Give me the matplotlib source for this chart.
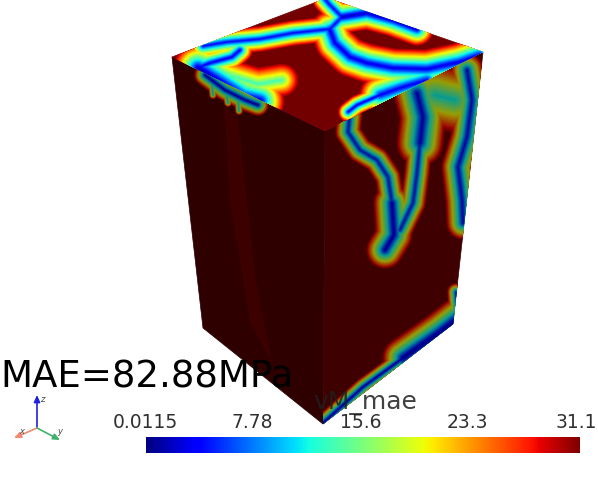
import numpy as np
import matplotlib
matplotlib.use("Agg")
import matplotlib.pyplot as plt
from matplotlib.patches import Polygon

# Colour bar
bar_title = "vM_mae"
tick_values = [0.0115, 7.78, 15.6, 23.3, 31.1]
tick_labels = ["0.0115", "7.78", "15.6", "23.3", "31.1"]
annotation = "MAE=82.88MPa"

# Box faces, in picture pixels
top_face = [(172, 57), (327, -2), (483, 52), (325, 131)]
left_face = [(172, 57), (325, 131), (323, 424), (203, 328)]
right_face = [(325, 131), (483, 52), (453, 324), (323, 424)]
left_sliver = [(224, 105), (238, 118), (256, 280), (272, 363), (250, 322), (230, 205)]

# Stress bands: (ridge points, half width, lowest level of the colour map)
top_bands = [
    ([(203, 46), (227, 42), (260, 39), (293, 33), (330, 29), (342, 17), (330, 5), (323, -3)], 13, 0.12),
    ([(197, 68), (210, 63), (232, 57), (240, 50)], 13, 0.1),
    ([(198, 68), (217, 80), (243, 97), (260, 101)], 25, 0.03),
    ([(225, 74), (258, 84), (282, 80)], 17, 0.42),
    ([(330, 30), (335, 43), (350, 57), (367, 63), (393, 68), (427, 69), (460, 62), (480, 55)], 20, 0.08),
    ([(342, 17), (367, 13), (393, 20), (417, 29)], 17, 0.05),
    ([(427, 80), (400, 88), (380, 95)], 21, 0.1),
    ([(380, 95), (357, 105), (348, 112)], 10, 0.1),
]
right_bands = [
    ([(350, 113), (348, 132), (360, 150), (377, 160), (388, 177), (392, 203)], 13, 0.14),
    ([(392, 203), (394, 235), (385, 250)], 19, 0.08),
    ([(417, 93), (423, 117), (420, 143)], 24, 0.1),
    ([(420, 143), (417, 173), (413, 203), (400, 230)], 13, 0.14),
    ([(467, 70), (472, 100), (467, 137), (458, 167), (462, 200), (463, 223)], 17, 0.12),
    ([(435, 95), (455, 100)], 34, 0.35),
    ([(323, 423), (363, 387), (403, 358)], 9, 0.1),
    ([(403, 358), (440, 332), (458, 318)], 21, 0.05),
    ([(458, 318), (456, 292)], 9, 0.15),
]
left_bands = [
    ([(205, 75), (225, 90), (245, 100), (258, 105)], 11, 0.1),
    ([(212, 84), (213, 95)], 4, 0.35),
    ([(226, 92), (228, 103)], 4, 0.35),
    ([(238, 98), (239, 111)], 4, 0.35),
]

FIG_W, FIG_H = 598, 499
fig = plt.figure(figsize=(FIG_W / 100, FIG_H / 100), dpi=100, facecolor="white")
ax = fig.add_axes([0, 0, 1, 1])
ax.set_xlim(0, FIG_W)
ax.set_ylim(FIG_H, 0)
ax.axis("off")

jet = plt.get_cmap("jet")


def draw_face(corners, base, bands, shade):
    face = Polygon(corners, closed=True, facecolor=base, edgecolor=base, lw=0.5, zorder=1)
    ax.add_patch(face)
    for t in np.linspace(0.97, 0.0, 30):
        r, g, b, _ = jet(t)
        colour = (r * shade, g * shade, b * shade)
        for pts, half, tmin in bands:
            if t < tmin:
                continue
            frac = (t - tmin) / (1 - tmin)
            xs, ys = zip(*pts)
            line, = ax.plot(xs, ys, color=colour, lw=2 * half * frac * 0.72 + 0.3,
                            solid_capstyle="round", solid_joinstyle="round", zorder=2)
            line.set_clip_path(face)


draw_face(left_face, "#2e0000", left_bands, 0.6)
ax.add_patch(Polygon(left_sliver, closed=True, facecolor="#3c0000", edgecolor="none", zorder=2))
draw_face(right_face, "#3e0000", right_bands, 0.62)
draw_face(top_face, "#720000", top_bands, 1.0)

# Colour bar through the value scale
vmin, vmax = tick_values[0], tick_values[-1]
gradient = np.linspace(vmin, vmax, 256).reshape(1, -1)
ax.imshow(gradient, cmap=jet, vmin=vmin, vmax=vmax, extent=(146, 580, 453, 437),
          aspect="auto", interpolation="bilinear", zorder=3)
ax.set_xlim(0, FIG_W)
ax.set_ylim(FIG_H, 0)
for v, lab in zip(tick_values, tick_labels):
    x = 145 + (v - vmin) / (vmax - vmin) * 431
    ax.text(x, 423, lab, ha="center", va="center", fontsize=13.5, color="#303030", zorder=5)
ax.text(365, 403, bar_title, ha="center", va="center", fontsize=18, color="#202020", alpha=0.85, zorder=5)
ax.text(0, 377, annotation, ha="left", va="center", fontsize=26.7, color="black", zorder=6)

# Orientation triad
origin = (37, 428)
triad = [("z", (37, 395), "#2020e0", (42, 399)),
         ("x", (14, 438), "#f08a70", (22, 431)),
         ("y", (60, 440), "#40b070", (60, 432))]
for name, tip, col, lab_pos in triad:
    ax.annotate("", xy=tip, xytext=origin, zorder=5,
                arrowprops=dict(arrowstyle="-|>,head_width=0.18,head_length=0.4", color=col, lw=1.2,
                                shrinkA=0, shrinkB=0))
    ax.text(*lab_pos, name, fontsize=6, style="italic", color="#444444", ha="center", va="center", zorder=5)

fig.savefig("out.png", dpi=100, facecolor="white")
